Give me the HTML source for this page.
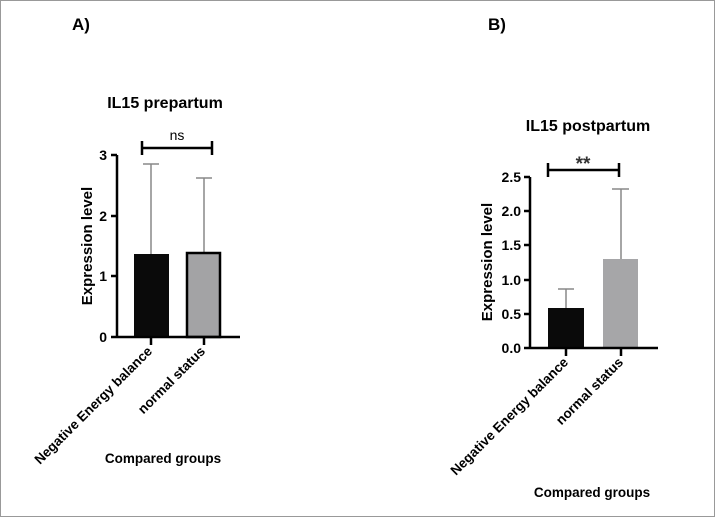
<!DOCTYPE html>
<html><head><style>
body{margin:0;background:#fff}
svg{display:block;font-family:"Liberation Sans",Arial,sans-serif;font-weight:bold}
</style></head><body>
<svg width="715" height="517" viewBox="0 0 715 517">
<rect x="0.5" y="0.5" width="714" height="516" fill="#fff" stroke="#999"/>
<text x="72" y="30" font-size="17">A)</text>
<text x="488" y="30" font-size="17">B)</text>
<!-- Chart A -->
<text x="165" y="108" font-size="16" text-anchor="middle">IL15 prepartum</text>
<g stroke="#000" stroke-width="2.5" fill="none">
<path d="M142 148H212M142 141V155M212 141V155"/>
</g>
<text x="177" y="140" font-size="14" font-weight="normal" text-anchor="middle">ns</text>
<g stroke="#888" stroke-width="1.5"><path d="M151 254V164M143 164H159M204 252V178M196 178H212"/></g>
<rect x="134" y="254" width="35" height="83" fill="#0a0a0a"/>
<rect x="187" y="253" width="33" height="84" fill="#a3a3a5" stroke="#000" stroke-width="2.5"/>
<g stroke="#000" stroke-width="2.5" fill="none">
<path d="M117 155V338M117 337H240M111 155H117M111 216H117M111 276H117M111 337H117M151 337V345M204 337V345"/>
</g>
<g font-size="14" text-anchor="end">
<text x="107" y="160">3</text><text x="107" y="221">2</text><text x="107" y="281">1</text><text x="107" y="342">0</text>
</g>
<text transform="translate(92 246) rotate(-90)" font-size="15" text-anchor="middle">Expression level</text>
<text transform="translate(153 352) rotate(-45)" font-size="13.5" text-anchor="end">Negative Energy balance</text>
<text transform="translate(206 352) rotate(-45)" font-size="13.5" text-anchor="end">normal status</text>
<text x="163" y="463" font-size="13.5" text-anchor="middle">Compared groups</text>
<!-- Chart B -->
<text x="588" y="131" font-size="16" text-anchor="middle">IL15 postpartum</text>
<g stroke="#000" stroke-width="2.5" fill="none">
<path d="M548 170H619M548 163V177M619 163V177"/>
</g>
<text x="583" y="170" font-size="19" text-anchor="middle" fill="#333">**</text>
<g stroke="#888" stroke-width="1.5"><path d="M566 308V289M558 289H574M621 259V189M612 189H629"/></g>
<rect x="548" y="308" width="36" height="40" fill="#0a0a0a"/>
<rect x="603" y="259" width="35" height="89" fill="#a6a6a8"/>
<g stroke="#000" stroke-width="2.5" fill="none">
<path d="M530 177V349M530 348H658M524 177H530M524 211H530M524 245H530M524 280H530M524 314H530M524 348H530M566 348V356M621 348V356"/>
</g>
<g font-size="14" text-anchor="end">
<text x="521" y="182">2.5</text><text x="521" y="216">2.0</text><text x="521" y="250">1.5</text><text x="521" y="285">1.0</text><text x="521" y="319">0.5</text><text x="521" y="353">0.0</text>
</g>
<text transform="translate(492 262) rotate(-90)" font-size="15" text-anchor="middle">Expression level</text>
<text transform="translate(569 363) rotate(-45)" font-size="13.5" text-anchor="end">Negative Energy balance</text>
<text transform="translate(624 363) rotate(-45)" font-size="13.5" text-anchor="end">normal status</text>
<text x="592" y="497" font-size="13.5" text-anchor="middle">Compared groups</text>
</svg>
</body></html>
